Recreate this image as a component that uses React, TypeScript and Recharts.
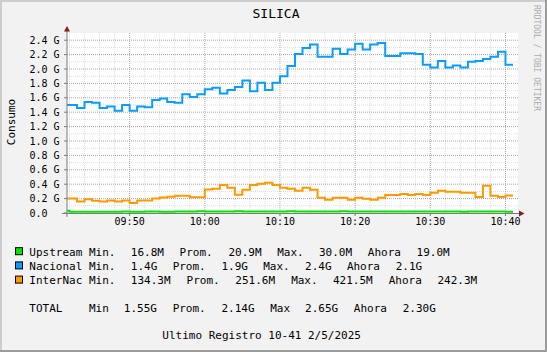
import React from "react";
import { LineChart, Line, XAxis, YAxis, CartesianGrid } from "recharts";

// one-minute RRD steps, each value is the average of the minute ending at that time
const times = [
  "09:42", "09:43", "09:44", "09:45", "09:46", "09:47", "09:48", "09:49", "09:50", "09:51",
  "09:52", "09:53", "09:54", "09:55", "09:56", "09:57", "09:58", "09:59", "10:00", "10:01",
  "10:02", "10:03", "10:04", "10:05", "10:06", "10:07", "10:08", "10:09", "10:10", "10:11",
  "10:12", "10:13", "10:14", "10:15", "10:16", "10:17", "10:18", "10:19", "10:20", "10:21",
  "10:22", "10:23", "10:24", "10:25", "10:26", "10:27", "10:28", "10:29", "10:30", "10:31",
  "10:32", "10:33", "10:34", "10:35", "10:36", "10:37", "10:38", "10:39", "10:40", "10:41",
];

// values in G
const upstream = [
  0.030, 0.017, 0.017, 0.017, 0.017, 0.017, 0.017, 0.017, 0.021, 0.017,
  0.017, 0.021, 0.021, 0.017, 0.017, 0.022, 0.021, 0.022, 0.023, 0.022,
  0.021, 0.022, 0.022, 0.023, 0.022, 0.021, 0.022, 0.022, 0.021, 0.022,
  0.023, 0.022, 0.021, 0.022, 0.022, 0.021, 0.022, 0.023, 0.022, 0.021,
  0.022, 0.022, 0.021, 0.022, 0.022, 0.021, 0.022, 0.022, 0.021, 0.022,
  0.021, 0.022, 0.021, 0.0168, 0.021, 0.021, 0.020, 0.021, 0.020, 0.019,
];

const nacional = [
  1.50, 1.50, 1.46, 1.54, 1.53, 1.46, 1.48, 1.42, 1.50, 1.42,
  1.48, 1.47, 1.57, 1.59, 1.54, 1.53, 1.65, 1.61, 1.65, 1.72,
  1.74, 1.66, 1.71, 1.75, 1.84, 1.69, 1.81, 1.71, 1.81, 1.90,
  2.04, 2.21, 2.29, 2.34, 2.17, 2.17, 2.28, 2.21, 2.27, 2.35,
  2.27, 2.34, 2.36, 2.18, 2.18, 2.22, 2.22, 2.21, 2.06, 2.02,
  2.11, 2.02, 2.05, 2.02, 2.10, 2.11, 2.14, 2.17, 2.24, 2.06,
];

const internac = [
  0.20, 0.20, 0.16, 0.19, 0.17, 0.16, 0.175, 0.16, 0.175, 0.14,
  0.175, 0.175, 0.20, 0.215, 0.225, 0.24, 0.24, 0.22, 0.22, 0.325,
  0.338, 0.389, 0.352, 0.255, 0.324, 0.389, 0.407, 0.421, 0.389, 0.352,
  0.338, 0.31, 0.352, 0.324, 0.213, 0.185, 0.213, 0.213, 0.185, 0.213,
  0.199, 0.185, 0.213, 0.25, 0.25, 0.264, 0.25, 0.264, 0.25, 0.282,
  0.31, 0.296, 0.296, 0.282, 0.282, 0.222, 0.38, 0.241, 0.222, 0.242,
];

const xTicks = ["09:50", "10:00", "10:10", "10:20", "10:30", "10:40"];
const yTicks = [0, 0.2, 0.4, 0.6, 0.8, 1.0, 1.2, 1.4, 1.6, 1.8, 2.0, 2.2, 2.4];

const seriesNames = ["Upstream", "Nacional", "InterNac"];
const seriesColors = ["#00e600", "#0a9cff", "#ff9900"];
const minLabels = ["16.8M", "1.4G", "134.3M"];
const avgLabels = ["20.9M", "1.9G", "251.6M"];
const maxLabels = ["30.0M", "2.4G", "421.5M"];
const nowLabels = ["19.0M", "2.1G", "242.3M"];
const totalLabels = ["1.55G", "2.14G", "2.65G", "2.30G"];

const MONO = "'DejaVu Sans Mono', monospace";

// minutes after 09:00
const toMin = (s: string) => {
  const [h, m] = s.split(":").map(Number);
  return h * 60 + m - 540;
};
const fmtMin = (v: number) => {
  const tot = Math.round(v) + 540;
  return `${String(Math.floor(tot / 60)).padStart(2, "0")}:${String(tot % 60).padStart(2, "0")}`;
};

const X_START = 41 + 40 / 60;
const X_END = X_START + 60;

const rows = [
  { t: toMin(times[0]) - 1, up: upstream[0], nac: nacional[0], int: internac[0] },
  ...times.map((s, i) => ({ t: toMin(s), up: upstream[i], nac: nacional[i], int: internac[i] })),
];

const xMajor = xTicks.map(toMin);
const xMinor: number[] = [];
for (let m = 42; m <= 100; m += 2) if (m % 10 !== 0) xMinor.push(m);
const yMajor = yTicks.filter((v) => v > 0);
const yMinor = yMajor.map((v) => v - 0.1);

const rowY = [255.7, 269.9, 284.1];
const CW = 6.97; // legend char cell width

// monospace legend line: each word is placed on its character cell
const LegendText = ({ x, y, s, cw = CW }: { x: number; y: number; s: string; cw?: number }) => {
  const words: { w: string; k: number }[] = [];
  const re = /\S+/g;
  let m: RegExpExecArray | null;
  while ((m = re.exec(s))) words.push({ w: m[0], k: m.index });
  return (
    <g>
      {words.map(({ w, k }) => (
        <text key={k} x={x + k * cw} y={y} fontFamily={MONO} fontSize={11} fill="#000">
          {w}
        </text>
      ))}
    </g>
  );
};

export default function App() {
  return (
    <div style={{ position: "absolute", left: 0, top: 0, width: 547, height: 352, background: "#f2f2f2" }}>
      <LineChart
        width={547}
        height={352}
        data={rows}
        margin={{ top: 33, right: 29, bottom: 119, left: 7 }}
      >
        <CartesianGrid fill="#fff" stroke="#dcdcdc" strokeDasharray="1 1" horizontalValues={yMinor} verticalValues={xMinor} />
        <CartesianGrid stroke="#a8a8a8" strokeDasharray="1 1" horizontalValues={yMajor} verticalValues={xMajor} />
        <XAxis
          dataKey="t"
          type="number"
          domain={[X_START, X_END]}
          allowDataOverflow
          ticks={xMajor}
          tickFormatter={fmtMin}
          height={20}
          axisLine={false}
          tickSize={3}
          tickMargin={2}
          tickLine={{ stroke: "#7b7b7b" }}
          tick={{ fontSize: 10, fontFamily: MONO, fill: "#000" }}
          interval={0}
        />
        <YAxis
          type="number"
          domain={[0, 2.5]}
          ticks={yTicks}
          width={60}
          axisLine={false}
          tickSize={3}
          tickMargin={4.5}
          tickLine={{ stroke: "#7b7b7b" }}
          tick={{ fontSize: 10, fontFamily: MONO, fill: "#000" }}
          tickFormatter={(v: number) => (v === 0 ? "0.0\u00a0\u00a0" : `${v.toFixed(1)} G`)}
          interval={0}
        />
        <Line type="stepBefore" dataKey="up" stroke={seriesColors[0]} strokeWidth={2} dot={false} isAnimationActive={false} />
        <Line type="stepBefore" dataKey="nac" stroke={seriesColors[1]} strokeWidth={2} dot={false} isAnimationActive={false} />
        <Line type="stepBefore" dataKey="int" stroke={seriesColors[2]} strokeWidth={2} dot={false} isAnimationActive={false} />
      </LineChart>

      <svg width={547} height={352} style={{ position: "absolute", left: 0, top: 0, pointerEvents: "none" }}>
        {/* frame */}
        <rect x={0} y={0} width={547} height={2} fill="#cdcdcd" />
        <rect x={0} y={0} width={2} height={352} fill="#cdcdcd" />
        <rect x={0} y={350} width={547} height={2} fill="#9b9b9b" />
        <rect x={545} y={0} width={2} height={352} fill="#9b9b9b" />

        {/* axes with arrows */}
        <line x1={62} y1={213.5} x2={520} y2={213.5} stroke="#7b7b7b" strokeWidth={1} />
        <line x1={67} y1={31} x2={67} y2={217} stroke="#7b7b7b" strokeWidth={1} />
        <polygon points="64,31.5 70,31.5 67,26" fill="#8a1c1c" />
        <polygon points="519,210.5 519,216.5 524.5,213.5" fill="#8a1c1c" />

        <text x={276} y={18.3} textAnchor="middle" fontFamily={MONO} fontSize={13} fill="#000">SILICA</text>
        <text transform="translate(15,122) rotate(-90)" textAnchor="middle" fontFamily={MONO} fontSize={11} fill="#000">
          Consumo
        </text>
        <text transform="translate(533.5,5) rotate(90)" fontFamily={MONO} fontSize={8} fill="#ababab">RRDTOOL / TOBI OETIKER</text>

        {seriesNames.map((name, i) => (
          <g key={name}>
            <rect x={15.5} y={rowY[i] - 8} width={7} height={7} fill={seriesColors[i]} stroke="#000" strokeWidth={1} />
            <LegendText x={29.3} y={rowY[i]} s={name} />
            <LegendText
              x={89}
              y={rowY[i]}
              s={`Min.  ${minLabels[i]}  Prom.  ${avgLabels[i]}  Max.  ${maxLabels[i]}  Ahora  ${nowLabels[i]}`}
            />
          </g>
        ))}
        <LegendText x={29.3} y={311.7} s="TOTAL" />
        <LegendText
          x={89}
          y={311.7}
          s={`Min  ${totalLabels[0]}  Prom.  ${totalLabels[1]}  Max  ${totalLabels[2]}  Ahora  ${totalLabels[3]}`}
        />
        <text x={162.3} y={339.3} fontFamily={MONO} fontSize={11} fill="#000">Ultimo Registro 10-41 2/5/2025</text>
      </svg>
    </div>
  );
}
